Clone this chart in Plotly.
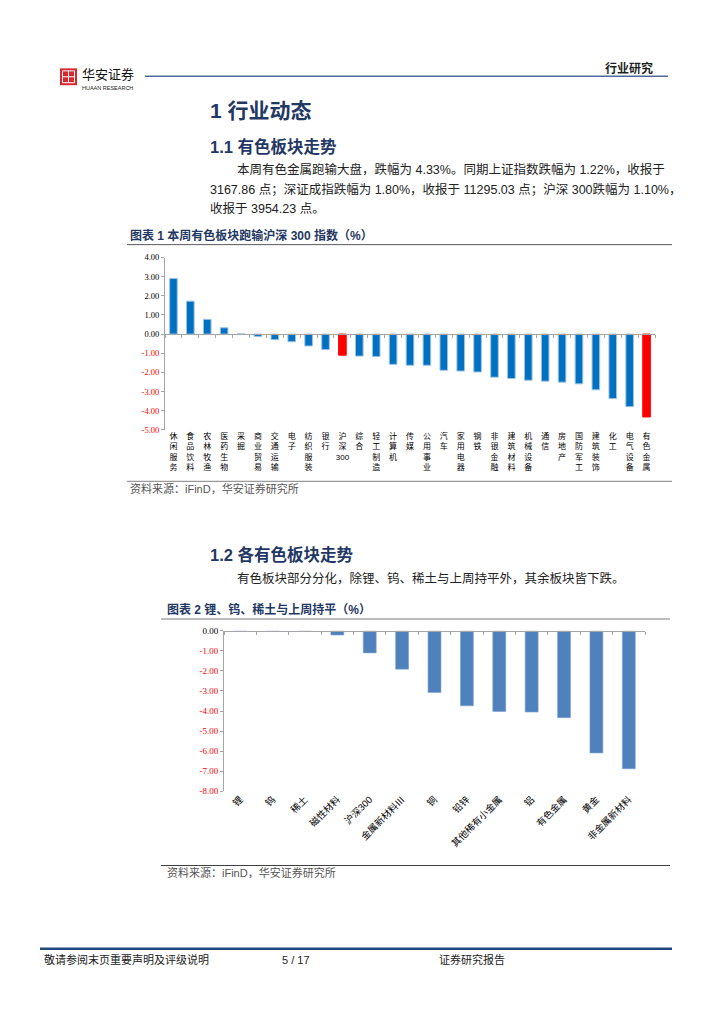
import plotly.graph_objects as go

W, H = 724, 1024

# ---------------- data ----------------
c1_categories = ["休闲服务", "食品饮料", "农林牧渔", "医药生物", "采掘", "商业贸易", "交通运输",
                 "电子", "纺织服装", "银行", "沪深300", "综合", "轻工制造", "计算机", "传媒",
                 "公用事业", "汽车", "家用电器", "钢铁", "非银金融", "建筑材料", "机械设备",
                 "通信", "房地产", "国防军工", "建筑装饰", "化工", "电气设备", "有色金属"]
c1_values = [2.91, 1.72, 0.77, 0.33, 0.01, -0.12, -0.29, -0.40, -0.62, -0.81, -1.10, -1.15,
             -1.17, -1.58, -1.63, -1.63, -1.89, -1.93, -1.98, -2.25, -2.32, -2.41, -2.46,
             -2.51, -2.60, -2.91, -3.37, -3.79, -4.33]
c1_highlight = ["沪深300", "有色金属"]
c1_yticks = [4, 3, 2, 1, 0, -1, -2, -3, -4, -5]

c2_categories = ["锂", "钨", "稀土", "磁性材料", "沪深300", "金属新材料Ⅲ", "铜", "铅锌",
                 "其他稀有小金属", "铝", "有色金属", "黄金", "非金属新材料"]
c2_values = [0.0, 0.0, 0.0, -0.21, -1.10, -1.91, -3.08, -3.74, -4.02, -4.05, -4.33, -6.09, -6.88]
c2_yticks = [0, -1, -2, -3, -4, -5, -6, -7, -8]

# ---------------- helpers ----------------
def X(p):
    return p / W

def Y(p):
    return 1 - p / H

NAVY = "#1F3864"
CJK = "Liberation Sans, Noto Sans CJK SC"
SERIF = "Liberation Serif, Noto Sans CJK SC"

def ytext(v):
    col = "#FF0000" if v < 0 else "#000000"
    return f"<span style='color:{col}'>{v:.2f}</span>"

def vlabel(c):
    if c == "沪深300":
        return "沪<br>深<br>300"
    return "<br>".join(list(c))

annotations = []
shapes = []

def ann(text, x, y, size, color="#222222", bold=False, family=CJK, xanchor="left"):
    if bold:
        text = f"<b>{text}</b>"
    annotations.append(dict(text=text, x=X(x), y=Y(y), xref="paper", yref="paper",
                            xanchor=xanchor, yanchor="middle", showarrow=False,
                            font=dict(size=size, color=color, family=family)))

def hline(x0, x1, y, color, width):
    shapes.append(dict(type="line", xref="paper", yref="paper", x0=X(x0), x1=X(x1),
                       y0=Y(y), y1=Y(y), line=dict(color=color, width=width)))

fig = go.Figure()

# ---------------- chart 1 ----------------
c1_colors = ["#FF0000" if c in c1_highlight else "#0070C0" for c in c1_categories]
c1_lines = ["#FF0000" if c in c1_highlight else "#9DC3E6" for c in c1_categories]
fig.add_trace(go.Bar(x=c1_categories, y=c1_values, width=0.45,
                     marker=dict(color=c1_colors, line=dict(color=c1_lines, width=1)),
                     xaxis="x", yaxis="y", showlegend=False))
fig.add_trace(go.Scatter(x=c1_categories, y=c1_values, mode="markers",
                         marker=dict(opacity=0), xaxis="x2", yaxis="y",
                         hoverinfo="skip", showlegend=False))

c1_dom_x = [X(165), X(655)]
c1_dom_y = [Y(429), Y(255)]
c1_rng = [min(c1_yticks), max(c1_yticks)]
c1_zero = c1_dom_y[0] + (0 - c1_rng[0]) / (c1_rng[1] - c1_rng[0]) * (c1_dom_y[1] - c1_dom_y[0])
n1 = len(c1_categories)

# ---------------- chart 2 ----------------
fig.add_trace(go.Bar(x=c2_categories, y=c2_values, width=0.4,
                     marker=dict(color="#4F81BD", line=dict(color="#7FA3D0", width=0.6)),
                     xaxis="x3", yaxis="y3", showlegend=False))
fig.add_trace(go.Scatter(x=c2_categories, y=c2_values, mode="markers",
                         marker=dict(opacity=0), xaxis="x4", yaxis="y3",
                         hoverinfo="skip", showlegend=False))

c2_dom_x = [X(224), X(645)]
c2_dom_y = [Y(794), Y(632)]
c2_rng = [min(c2_yticks), max(c2_yticks)]
c2_zero = c2_dom_y[0] + (0 - c2_rng[0]) / (c2_rng[1] - c2_rng[0]) * (c2_dom_y[1] - c2_dom_y[0])
n2 = len(c2_categories)

AXC = "#A6A6A6"

layout = dict(
    width=W, height=H, margin=dict(l=0, r=0, t=0, b=0),
    paper_bgcolor="white", plot_bgcolor="rgba(0,0,0,0)",
    showlegend=False,
    xaxis=dict(domain=c1_dom_x, anchor="y", type="category",
               categoryorder="array", categoryarray=c1_categories,
               range=[-0.5, n1 - 0.5], showline=False, ticks="", showgrid=False,
               tickvals=c1_categories, ticktext=[vlabel(c) for c in c1_categories],
               tickfont=dict(size=8, color="#000", family=CJK)),
    xaxis2=dict(overlaying="x", anchor="free", position=c1_zero, type="category",
                categoryorder="array", categoryarray=c1_categories,
                range=[-0.5, n1 - 0.5], showline=True, linecolor=AXC, linewidth=1,
                ticks="outside", tickson="boundaries", ticklen=3, tickcolor=AXC,
                showticklabels=False, showgrid=False),
    yaxis=dict(domain=c1_dom_y, anchor="x", range=c1_rng, tickvals=c1_yticks,
               ticktext=[ytext(v) for v in c1_yticks], showgrid=False, zeroline=False,
               showline=True, linecolor=AXC, linewidth=1, ticks="outside", ticklen=3,
               tickcolor=AXC, tickfont=dict(size=8.5, family=SERIF)),
    xaxis3=dict(domain=c2_dom_x, anchor="y3", type="category",
                categoryorder="array", categoryarray=c2_categories,
                range=[-0.5, n2 - 0.5], showline=False, ticks="", showgrid=False,
                tickangle=-45, tickfont=dict(size=9.5, color="#000", family=CJK)),
    xaxis4=dict(overlaying="x3", anchor="free", position=c2_zero, type="category",
                categoryorder="array", categoryarray=c2_categories,
                range=[-0.5, n2 - 0.5], showline=True, linecolor=AXC, linewidth=1,
                ticks="outside", tickson="boundaries", ticklen=3, tickcolor=AXC,
                showticklabels=False, showgrid=False),
    yaxis3=dict(domain=c2_dom_y, anchor="x3", range=c2_rng, tickvals=c2_yticks,
                ticktext=[ytext(v) for v in c2_yticks], showgrid=False, zeroline=False,
                showline=True, linecolor=AXC, linewidth=1, ticks="outside", ticklen=3,
                tickcolor=AXC, tickfont=dict(size=9, family=SERIF)),
)

# ---------------- page text & decorations ----------------
# header logo
shapes.append(dict(type="rect", xref="paper", yref="paper", x0=X(60), x1=X(77), y0=Y(81), y1=Y(64),
                   fillcolor="#D7282F", line=dict(width=0)))
shapes.append(dict(type="rect", xref="paper", yref="paper", x0=X(62.5), x1=X(74.5), y0=Y(78.5), y1=Y(66.5),
                   fillcolor="rgba(0,0,0,0)", line=dict(color="white", width=1)))
shapes.append(dict(type="line", xref="paper", yref="paper", x0=X(68.5), x1=X(68.5), y0=Y(78.5), y1=Y(66.5),
                   line=dict(color="white", width=1)))
shapes.append(dict(type="line", xref="paper", yref="paper", x0=X(62.5), x1=X(74.5), y0=Y(72.5), y1=Y(72.5),
                   line=dict(color="white", width=1)))
ann("华安证券", 80, 69, 13, color="#111111", family="Noto Sans CJK SC")
ann("HUAAN RESEARCH", 80, 84, 5.5, color="#222222", family="Liberation Sans")
hline(145, 668, 72, "#4F6A9A", 1.5)
ann("行业研究", 603, 64, 12, color="#1F1F1F", bold=True)

# section 1
ann("1 行业动态", 208, 107, 21, color=NAVY, bold=True)
ann("1.1 有色板块走势", 208, 143, 16.5, color=NAVY, bold=True)
ann("本周有色金属跑输大盘，跌幅为 4.33%。同期上证指数跌幅为 1.22%，收报于", 235, 166, 12.5)
ann("3167.86 点；深证成指跌幅为 1.80%，收报于 11295.03 点；沪深 300跌幅为 1.10%，", 208, 186, 12.5)
ann("收报于 3954.23 点。", 208, 206, 12.5)

ann("图表 1 本周有色板块跑输沪深 300 指数（%）", 128, 233, 12, color=NAVY, bold=True)
hline(127, 672, 242, "#595959", 1)
hline(127, 672, 481, "#808080", 1)
ann("资料来源：iFinD，华安证券研究所", 128, 488, 11, color="#555555")

# section 2
ann("1.2 各有色板块走势", 208, 555, 16.5, color=NAVY, bold=True)
ann("有色板块部分分化，除锂、钨、稀土与上周持平外，其余板块皆下跌。", 235, 579, 12.5)
ann("图表 2 锂、钨、稀土与上周持平（%）", 165, 610, 12, color=NAVY, bold=True)
hline(161, 670, 620, "#A6A6A6", 1.5)
hline(161, 670, 869, "#404040", 1)
ann("资料来源：iFinD，华安证券研究所", 165, 876, 11, color="#555555")

# footer
hline(40, 672, 953, "#1F497D", 2.5)
ann("敬请参阅末页重要声明及评级说明", 42, 964, 11, color="#222222")
ann("5 / 17", 280, 964, 11, color="#222222")
ann("证券研究报告", 437, 964, 11, color="#222222")

layout["annotations"] = annotations
layout["shapes"] = shapes
fig.update_layout(**layout)

fig.write_html("out.html", config={"displayModeBar": False},
               post_script="document.body.style.margin='0';document.body.style.padding='0';")
